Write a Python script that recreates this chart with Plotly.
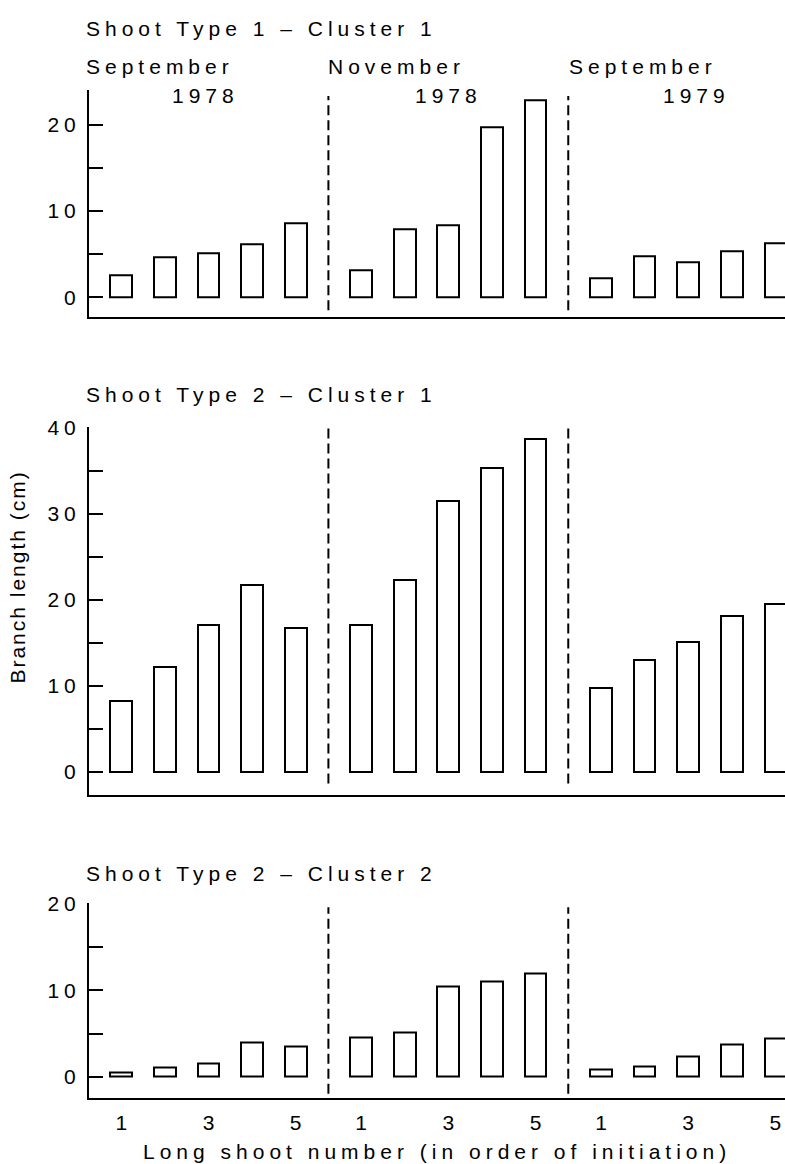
import numpy as np
import plotly.graph_objects as go

# ---------------- data ----------------
shoot_numbers = [1, 2, 3, 4, 5]
period_months = ["September", "November", "September"]
period_years = ["1978", "1978", "1979"]
panel_titles = ["Shoot Type 1 – Cluster 1", "Shoot Type 2 – Cluster 1", "Shoot Type 2 – Cluster 2"]
x_tick_numbers = [1, 3, 5]
y_title = "Branch length (cm)"
x_title = "Long shoot number (in order of initiation)"

# branch length (cm), per period: Sep 1978, Nov 1978, Sep 1979
type1_cluster1 = [[2.5, 4.6, 5.1, 6.1, 8.6],
                  [3.1, 7.9, 8.3, 19.7, 22.8],
                  [2.2, 4.7, 4.1, 5.3, 6.3]]
type2_cluster1 = [[8.2, 12.2, 17.1, 21.7, 16.7],
                  [17.1, 22.3, 31.5, 35.3, 38.6],
                  [9.7, 13.0, 15.1, 18.1, 19.5]]
type2_cluster2 = [[0.5, 1.1, 1.5, 4.0, 3.5],
                  [4.6, 5.1, 10.5, 11.0, 12.0],
                  [0.8, 1.2, 2.4, 3.8, 4.4]]
panels = [type1_cluster1, type2_cluster1, type2_cluster2]

# ---------------- layout / style ----------------
W, H = 785, 1164
L = 89
GROUP_STEP = 5.5
FONT = "Liberation Sans, Arial, sans-serif"
FS = 21

def px(x):
    return (x - L) / (W - L)

def py(y):
    return 1 - y / H

def positions(g):
    return [g * GROUP_STEP + (n - 1) for n in shoot_numbers]

y_ranges = [[-2.3, 24.0], [-2.64, 40.05], [-2.4, 20.05]]
y_domains = [[py(309), py(80)], [py(791), py(420)], [py(1097), py(901)]]
dash_extent = [[0.03, 0.975], [0.03, 1.0], [0.02, 0.98]]

fig = go.Figure()
for p, data in enumerate(panels):
    xs, ys = [], []
    for g, vals in enumerate(data):
        xs += positions(g)
        ys += vals
    sfx = "" if p == 0 else str(p + 1)
    fig.add_trace(go.Bar(
        x=xs, y=ys, width=0.5,
        marker=dict(color="white", line=dict(color="black", width=2)),
        xaxis="x" + sfx, yaxis="y" + sfx, showlegend=False, hoverinfo="skip"))

axis_common = dict(showline=True, linewidth=2, linecolor="black", showgrid=False,
                   zeroline=False, tickfont=dict(family=FONT, size=FS, color="black"))
bottom_ticks = [g * GROUP_STEP + (n - 1) for g in range(3) for n in x_tick_numbers]
bottom_text = [str(n) for g in range(3) for n in x_tick_numbers]

layout = dict(width=W, height=H, margin=dict(l=L, r=0, t=0, b=0),
              paper_bgcolor="white", plot_bgcolor="white",
              font=dict(family=FONT, size=FS, color="black"), bargap=0)
for p in range(3):
    sfx = "" if p == 0 else str(p + 1)
    xa = dict(axis_common, domain=[0, 1], range=[-0.74, 15.22], anchor="y" + sfx,
              ticks="", fixedrange=True)
    if p == 2:
        xa.update(tickmode="array", tickvals=bottom_ticks, ticktext=bottom_text,
                  showticklabels=True, ticklabelstandoff=5)
    else:
        xa.update(showticklabels=False)
    ya = dict(axis_common, domain=y_domains[p], range=y_ranges[p], anchor="x" + sfx,
              ticks="inside", ticklen=14, tickwidth=2, tickcolor="black", dtick=10,
              tick0=0, ticklabelstandoff=2,
              minor=dict(dtick=5, tick0=0, ticks="inside", ticklen=14, tickwidth=2,
                         tickcolor="black"), fixedrange=True)
    layout["xaxis" + sfx] = xa
    layout["yaxis" + sfx] = ya
fig.update_layout(**layout)

# dashed separators between periods
for p in range(3):
    sfx = "" if p == 0 else str(p + 1)
    for g in range(2):
        xsep = g * GROUP_STEP + 4.75
        fig.add_shape(type="line", xref="x" + sfx, yref="y" + sfx + " domain",
                      x0=xsep, x1=xsep, y0=dash_extent[p][0], y1=dash_extent[p][1],
                      line=dict(color="black", width=2, dash="10px,5px"))

ann = []
# y title (index 0)
ann.append(dict(text=y_title, x=px(18), y=py(572), textangle=-90, font=dict(size=21)))
title_y = [18, 387, 871]
for p in range(3):
    ann.append(dict(text=panel_titles[p], x=px(84), y=py(title_y[p]), xanchor="left"))
month_x = [84, 326, 567]
year_x = [170, 413, 661]
for g in range(3):
    ann.append(dict(text=period_months[g], x=px(month_x[g]), y=py(56), xanchor="left"))
    ann.append(dict(text=period_years[g], x=px(year_x[g]), y=py(85.5), xanchor="left"))
ann.append(dict(text=x_title, x=px(141), y=py(1151), xanchor="left"))
for a in ann:
    a.update(xref="paper", yref="paper", showarrow=False, yanchor="middle")
    a.setdefault("xanchor", "center")
    a["align"] = a["xanchor"] if a["xanchor"] == "left" else "center"
fig.update_layout(annotations=ann)

post = ("document.body.style.margin='0';"
        "document.documentElement.style.overflow='hidden';"
        "var s=document.createElement('style');"
        "s.textContent='.main-svg text{letter-spacing:5px;}"
        " .annotation[data-index=\"0\"] text{letter-spacing:2px;}"
        " g[class^=\"x\"][class$=\"tick\"] text{letter-spacing:0px;}';"
        "document.head.appendChild(s);")
fig.write_html("out.html", post_script=post, config={"displayModeBar": False})
